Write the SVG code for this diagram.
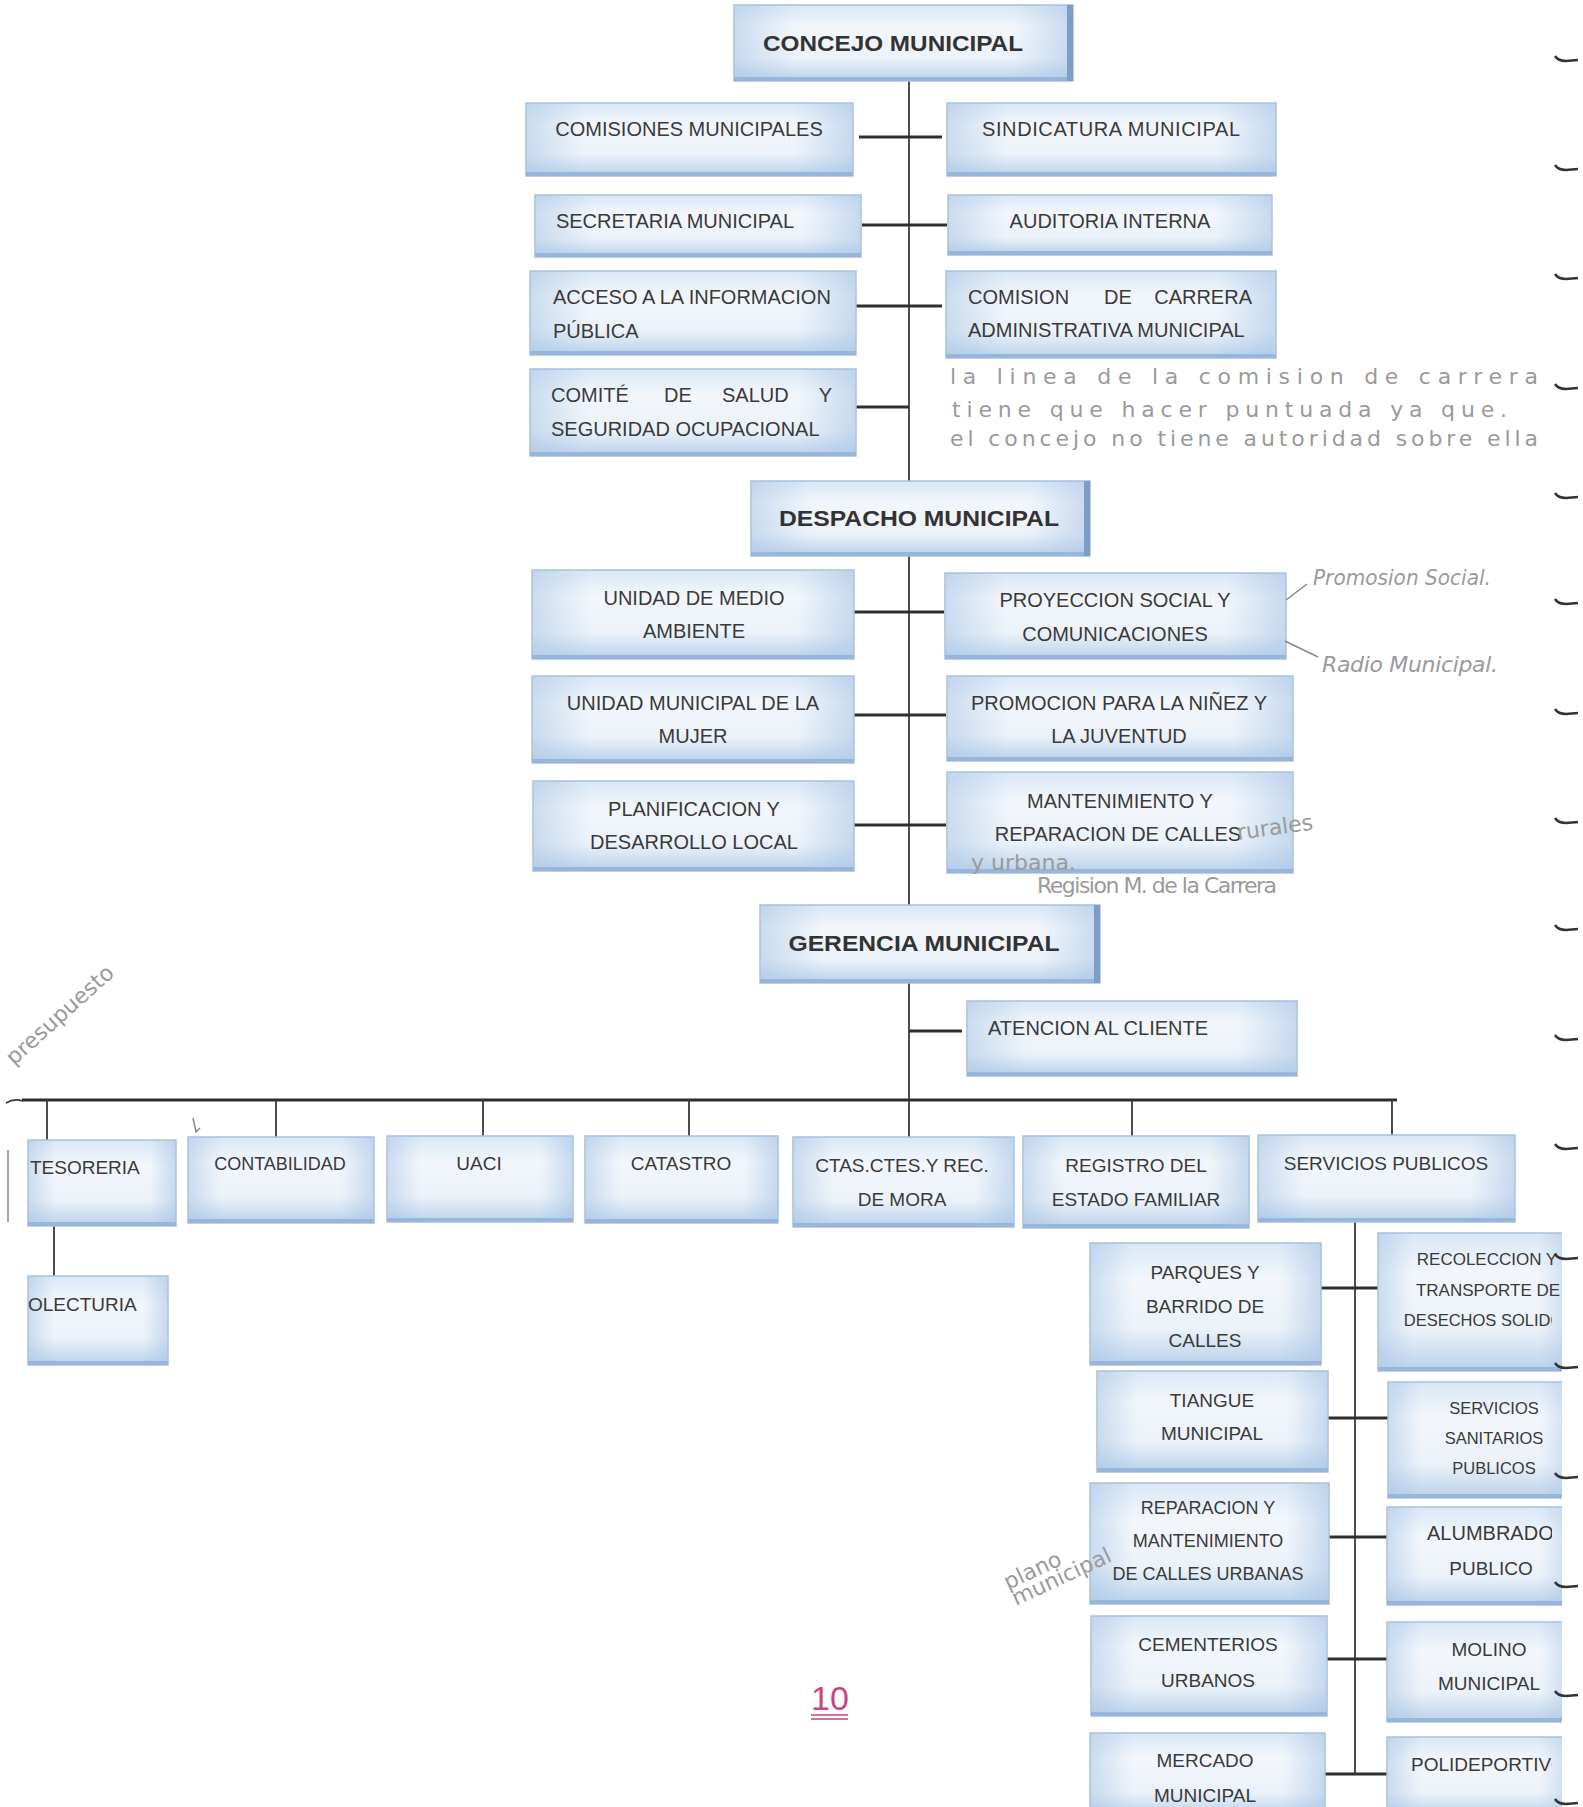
<svg xmlns="http://www.w3.org/2000/svg" width="1583" height="1807" viewBox="0 0 1583 1807">
<defs>
<linearGradient id="gv" x1="0" y1="0" x2="0" y2="1">
<stop offset="0" stop-color="#d9e7f5"/>
<stop offset="0.3" stop-color="#f3f7fc"/>
<stop offset="0.7" stop-color="#ecf2f9"/>
<stop offset="1" stop-color="#b9d1ea"/>
</linearGradient>
<linearGradient id="gh" x1="0" y1="0" x2="1" y2="0">
<stop offset="0" stop-color="#a9c6e6" stop-opacity="0.55"/>
<stop offset="0.18" stop-color="#a9c6e6" stop-opacity="0"/>
<stop offset="0.82" stop-color="#a9c6e6" stop-opacity="0"/>
<stop offset="1" stop-color="#a9c6e6" stop-opacity="0.6"/>
</linearGradient>
<clipPath id="pageR"><rect x="0" y="0" width="1562" height="1807"/></clipPath>
<clipPath id="cutT"><rect x="0" y="0" width="1552" height="1807"/></clipPath>
</defs>
<style>
.bx{fill:url(#gv);stroke:#a9c0da;stroke-width:1.5}
.bo{fill:url(#gh)}
.bs{fill:#97b6d9}
.sh{fill:#7d9dc5}
.t{font-family:"Liberation Sans",Arial,sans-serif;font-size:20px;fill:#3a3a3a}
.c{text-anchor:middle}
.h{font-weight:bold;font-size:22px;fill:#333}
.s19{font-size:19px}
.s18{font-size:18px}
.s17{font-size:17px}
.s165{font-size:16.5px}
.ln{stroke:#2e2e2e;stroke-width:3;fill:none}
.lv{stroke:#3a3a3a;stroke-width:1.8;fill:none}
.hw{font-family:"DejaVu Sans",sans-serif;fill:#9a9a9a;font-size:22px}
.it{font-style:italic}
.hwl{stroke:#888;stroke-width:1.5;fill:none}
.mk{stroke:#333;stroke-width:2.5;fill:none}
</style>
<rect width="1583" height="1807" fill="#ffffff"/>

<g id="connectors">
<path class="lv" d="M909 81V1100"/>
<path class="ln" d="M859 137H942M862 225H947M856 306H942M856 407H909M854 612H944M854 715H946M854 825H946M909 1031H962"/>
<path class="ln" d="M22 1100H1397"/>
<path class="lv" d="M6 1103Q14 1098 23 1101"/>
<path class="lv" d="M47 1100V1140M276 1100V1137M483 1100V1136M689 1100V1136M909 1100V1137M1132 1100V1136M1392 1100V1135M54 1226V1276"/>
<path class="lv" d="M1355 1222V1774"/>
<path class="ln" d="M1321 1288H1378M1328 1418H1388M1329 1537H1387M1327 1659H1387M1325 1774H1387"/>
</g>

<g id="concejo-municipal"><rect class="bx" x="734" y="5" width="339" height="76"/><rect class="bo" x="734" y="5" width="339" height="76"/><rect class="bs" x="734" y="77" width="339" height="4"/><rect class="sh" x="1067" y="5" width="6" height="76"/><text class="t h c" x="893" y="51" textLength="260" lengthAdjust="spacingAndGlyphs">CONCEJO MUNICIPAL</text></g>

<g id="comisiones-municipales"><rect class="bx" x="526" y="103" width="327" height="73"/><rect class="bo" x="526" y="103" width="327" height="73"/><rect class="bs" x="526" y="172" width="327" height="4"/><text class="t c" x="689" y="136">COMISIONES MUNICIPALES</text></g>
<g id="sindicatura-municipal"><rect class="bx" x="947" y="103" width="329" height="73"/><rect class="bo" x="947" y="103" width="329" height="73"/><rect class="bs" x="947" y="172" width="329" height="4"/><text class="t c" x="1111" y="136" textLength="258" lengthAdjust="spacing">SINDICATURA  MUNICIPAL</text></g>
<g id="secretaria-municipal"><rect class="bx" x="535" y="195" width="326" height="62"/><rect class="bo" x="535" y="195" width="326" height="62"/><rect class="bs" x="535" y="253" width="326" height="4"/><text class="t c" x="675" y="228">SECRETARIA MUNICIPAL</text></g>
<g id="auditoria-interna"><rect class="bx" x="948" y="195" width="324" height="60"/><rect class="bo" x="948" y="195" width="324" height="60"/><rect class="bs" x="948" y="251" width="324" height="4"/><text class="t c" x="1110" y="228">AUDITORIA INTERNA</text></g>
<g id="acceso-informacion"><rect class="bx" x="530" y="271" width="326" height="84"/><rect class="bo" x="530" y="271" width="326" height="84"/><rect class="bs" x="530" y="351" width="326" height="4"/><text class="t" x="553" y="304">ACCESO A LA INFORMACION</text><text class="t" x="553" y="338">PÚBLICA</text></g>
<g id="comision-carrera"><rect class="bx" x="946" y="271" width="330" height="87"/><rect class="bo" x="946" y="271" width="330" height="87"/><rect class="bs" x="946" y="354" width="330" height="4"/><text class="t" x="968" y="304">COMISION</text><text class="t" x="1104" y="304">DE</text><text class="t" x="1252" y="304" text-anchor="end">CARRERA</text><text class="t" x="968" y="337">ADMINISTRATIVA MUNICIPAL</text></g>
<g id="comite-salud"><rect class="bx" x="530" y="369" width="326" height="87"/><rect class="bo" x="530" y="369" width="326" height="87"/><rect class="bs" x="530" y="452" width="326" height="4"/><text class="t" x="551" y="402">COMITÉ</text><text class="t" x="664" y="402">DE</text><text class="t" x="722" y="402">SALUD</text><text class="t" x="832" y="402" text-anchor="end">Y</text><text class="t" x="551" y="436">SEGURIDAD OCUPACIONAL</text></g>

<g id="despacho-municipal"><rect class="bx" x="751" y="481" width="339" height="75"/><rect class="bo" x="751" y="481" width="339" height="75"/><rect class="bs" x="751" y="552" width="339" height="4"/><rect class="sh" x="1084" y="481" width="6" height="75"/><text class="t h c" x="919" y="526" textLength="280" lengthAdjust="spacingAndGlyphs">DESPACHO MUNICIPAL</text></g>

<g id="medio-ambiente"><rect class="bx" x="532" y="570" width="322" height="89"/><rect class="bo" x="532" y="570" width="322" height="89"/><rect class="bs" x="532" y="655" width="322" height="4"/><text class="t c" x="694" y="605">UNIDAD DE MEDIO</text><text class="t c" x="694" y="638">AMBIENTE</text></g>
<g id="proyeccion-social"><rect class="bx" x="945" y="573" width="341" height="86"/><rect class="bo" x="945" y="573" width="341" height="86"/><rect class="bs" x="945" y="655" width="341" height="4"/><text class="t c" x="1115" y="607">PROYECCION SOCIAL Y</text><text class="t c" x="1115" y="641">COMUNICACIONES</text></g>
<g id="unidad-mujer"><rect class="bx" x="532" y="676" width="322" height="87"/><rect class="bo" x="532" y="676" width="322" height="87"/><rect class="bs" x="532" y="759" width="322" height="4"/><text class="t c" x="693" y="710">UNIDAD MUNICIPAL DE LA</text><text class="t c" x="693" y="743">MUJER</text></g>
<g id="promocion-ninez"><rect class="bx" x="947" y="676" width="346" height="85"/><rect class="bo" x="947" y="676" width="346" height="85"/><rect class="bs" x="947" y="757" width="346" height="4"/><text class="t c" x="1119" y="710">PROMOCION PARA LA NIÑEZ Y</text><text class="t c" x="1119" y="743">LA JUVENTUD</text></g>
<g id="planificacion"><rect class="bx" x="533" y="781" width="321" height="90"/><rect class="bo" x="533" y="781" width="321" height="90"/><rect class="bs" x="533" y="867" width="321" height="4"/><text class="t c" x="694" y="816">PLANIFICACION Y</text><text class="t c" x="694" y="849">DESARROLLO LOCAL</text></g>
<g id="mantenimiento-calles"><rect class="bx" x="947" y="772" width="346" height="101"/><rect class="bo" x="947" y="772" width="346" height="101"/><rect class="bs" x="947" y="869" width="346" height="4"/><text class="t c" x="1120" y="808">MANTENIMIENTO Y</text><text class="t c" x="1118" y="841">REPARACION DE CALLES</text></g>

<g id="gerencia-municipal"><rect class="bx" x="760" y="905" width="340" height="78"/><rect class="bo" x="760" y="905" width="340" height="78"/><rect class="bs" x="760" y="979" width="340" height="4"/><rect class="sh" x="1094" y="905" width="6" height="78"/><text class="t h c" x="924" y="951" textLength="271" lengthAdjust="spacingAndGlyphs">GERENCIA MUNICIPAL</text></g>
<g id="atencion-cliente"><rect class="bx" x="967" y="1001" width="330" height="75"/><rect class="bo" x="967" y="1001" width="330" height="75"/><rect class="bs" x="967" y="1072" width="330" height="4"/><text class="t" x="988" y="1035">ATENCION AL CLIENTE</text></g>

<g id="tesoreria"><rect class="bx" x="28" y="1140" width="148" height="86"/><rect class="bo" x="28" y="1140" width="148" height="86"/><rect class="bs" x="28" y="1222" width="148" height="4"/><text class="t s19" x="30" y="1174">TESORERIA</text></g>
<g id="contabilidad"><rect class="bx" x="188" y="1137" width="186" height="86"/><rect class="bo" x="188" y="1137" width="186" height="86"/><rect class="bs" x="188" y="1219" width="186" height="4"/><text class="t s18 c" x="280" y="1170">CONTABILIDAD</text></g>
<g id="uaci"><rect class="bx" x="387" y="1136" width="186" height="86"/><rect class="bo" x="387" y="1136" width="186" height="86"/><rect class="bs" x="387" y="1218" width="186" height="4"/><text class="t s19 c" x="479" y="1170">UACI</text></g>
<g id="catastro"><rect class="bx" x="585" y="1136" width="193" height="87"/><rect class="bo" x="585" y="1136" width="193" height="87"/><rect class="bs" x="585" y="1219" width="193" height="4"/><text class="t s19 c" x="681" y="1170">CATASTRO</text></g>
<g id="ctas-ctes"><rect class="bx" x="793" y="1137" width="221" height="90"/><rect class="bo" x="793" y="1137" width="221" height="90"/><rect class="bs" x="793" y="1223" width="221" height="4"/><text class="t s19 c" x="902" y="1172">CTAS.CTES.Y REC.</text><text class="t s19 c" x="902" y="1206">DE MORA</text></g>
<g id="registro-familiar"><rect class="bx" x="1023" y="1136" width="226" height="92"/><rect class="bo" x="1023" y="1136" width="226" height="92"/><rect class="bs" x="1023" y="1224" width="226" height="4"/><text class="t s19 c" x="1136" y="1172">REGISTRO DEL</text><text class="t s19 c" x="1136" y="1206">ESTADO FAMILIAR</text></g>
<g id="servicios-publicos"><rect class="bx" x="1258" y="1135" width="257" height="87"/><rect class="bo" x="1258" y="1135" width="257" height="87"/><rect class="bs" x="1258" y="1218" width="257" height="4"/><text class="t s19 c" x="1386" y="1170">SERVICIOS PUBLICOS</text></g>
<g id="colecturia"><rect class="bx" x="28" y="1276" width="140" height="89"/><rect class="bo" x="28" y="1276" width="140" height="89"/><rect class="bs" x="28" y="1361" width="140" height="4"/><text class="t s19" x="28" y="1311">OLECTURIA</text></g>

<g id="parques-barrido"><rect class="bx" x="1090" y="1243" width="231" height="122"/><rect class="bo" x="1090" y="1243" width="231" height="122"/><rect class="bs" x="1090" y="1361" width="231" height="4"/><text class="t s19 c" x="1205" y="1279">PARQUES Y</text><text class="t s19 c" x="1205" y="1313">BARRIDO DE</text><text class="t s19 c" x="1205" y="1347">CALLES</text></g>
<g id="tiangue-municipal"><rect class="bx" x="1097" y="1371" width="231" height="101"/><rect class="bo" x="1097" y="1371" width="231" height="101"/><rect class="bs" x="1097" y="1468" width="231" height="4"/><text class="t s19 c" x="1212" y="1407">TIANGUE</text><text class="t s19 c" x="1212" y="1440">MUNICIPAL</text></g>
<g id="reparacion-calles-urbanas"><rect class="bx" x="1090" y="1483" width="239" height="121"/><rect class="bo" x="1090" y="1483" width="239" height="121"/><rect class="bs" x="1090" y="1600" width="239" height="4"/><text class="t s18 c" x="1208" y="1514">REPARACION Y</text><text class="t s18 c" x="1208" y="1547">MANTENIMIENTO</text><text class="t s18 c" x="1208" y="1580">DE CALLES URBANAS</text></g>
<g id="cementerios-urbanos"><rect class="bx" x="1091" y="1616" width="236" height="100"/><rect class="bo" x="1091" y="1616" width="236" height="100"/><rect class="bs" x="1091" y="1712" width="236" height="4"/><text class="t s19 c" x="1208" y="1651">CEMENTERIOS</text><text class="t s19 c" x="1208" y="1687">URBANOS</text></g>
<g id="mercado-municipal"><rect class="bx" x="1090" y="1733" width="235" height="84"/><rect class="bo" x="1090" y="1733" width="235" height="84"/><text class="t s19 c" x="1205" y="1767">MERCADO</text><text class="t s19 c" x="1205" y="1802">MUNICIPAL</text></g>

<g clip-path="url(#pageR)">
<g id="recoleccion-desechos"><rect class="bx" x="1378" y="1233" width="195" height="138"/><rect class="bo" x="1378" y="1233" width="195" height="138"/><rect class="bs" x="1378" y="1367" width="195" height="4"/><text class="t s17 c" x="1487" y="1265">RECOLECCION Y</text><text class="t s17 c" x="1488" y="1296">TRANSPORTE DE</text><text class="t s165 c" x="1489" y="1326" clip-path="url(#cutT)">DESECHOS SOLIDOS</text></g>
<g id="servicios-sanitarios"><rect class="bx" x="1388" y="1382" width="185" height="116"/><rect class="bo" x="1388" y="1382" width="185" height="116"/><rect class="bs" x="1388" y="1494" width="185" height="4"/><text class="t s165 c" x="1494" y="1414">SERVICIOS</text><text class="t s165 c" x="1494" y="1444">SANITARIOS</text><text class="t s165 c" x="1494" y="1474">PUBLICOS</text></g>
<g id="alumbrado-publico"><rect class="bx" x="1387" y="1507" width="186" height="98"/><rect class="bo" x="1387" y="1507" width="186" height="98"/><rect class="bs" x="1387" y="1601" width="186" height="4"/><text class="t" x="1427" y="1540" clip-path="url(#cutT)">ALUMBRADO</text><text class="t s19 c" x="1491" y="1575">PUBLICO</text></g>
<g id="molino-municipal"><rect class="bx" x="1387" y="1622" width="186" height="100"/><rect class="bo" x="1387" y="1622" width="186" height="100"/><rect class="bs" x="1387" y="1718" width="186" height="4"/><text class="t s19 c" x="1489" y="1656">MOLINO</text><text class="t s19 c" x="1489" y="1690">MUNICIPAL</text></g>
<g id="polideportivo"><rect class="bx" x="1387" y="1737" width="186" height="80"/><rect class="bo" x="1387" y="1737" width="186" height="80"/><text class="t s19" x="1411" y="1771" clip-path="url(#cutT)">POLIDEPORTIVO</text></g>
</g>

<g id="annotations">
<text class="hw" x="950" y="384" font-size="25" textLength="588" lengthAdjust="spacing">la linea de la comision de carrera</text>
<text class="hw" x="952" y="417" font-size="25" textLength="555" lengthAdjust="spacing">tiene que hacer puntuada ya que.</text>
<text class="hw" x="950" y="446" font-size="25" textLength="588" lengthAdjust="spacing">el concejo no tiene autoridad sobre ella</text>
<path class="hwl" d="M1286 600L1307 584M1285 641L1318 657"/>
<text class="hw it" x="1313" y="585" font-size="21" textLength="178" lengthAdjust="spacingAndGlyphs">Promosion Social.</text>
<text class="hw it" x="1322" y="672" font-size="24" textLength="176" lengthAdjust="spacing">Radio Municipal.</text>
<text class="hw" x="1238" y="840" font-size="22" transform="rotate(-8 1238 840)">rurales</text>
<text class="hw" x="971" y="870" font-size="27" fill="#6f6f6f">y urbana.</text>
<text class="hw" x="1037" y="893" font-size="12" fill="#b0b0b0" textLength="240" lengthAdjust="spacing">Regision M. de la Carrera</text>
<text class="hw" x="14" y="1066" font-size="24" fill="#b0b0b0" transform="rotate(-42 14 1066)">presupuesto</text>
<text class="hw" x="1008" y="1590" font-size="20" fill="#b0b0b0" transform="rotate(-25 1008 1590)">plano</text>
<text class="hw" x="1016" y="1606" font-size="15" fill="#b0b0b0" transform="rotate(-25 1016 1606)">municipal</text>
<path class="hwl" d="M193 1118L196 1132L200 1128"/>
<path class="hwl" stroke="#aaa" d="M8 1150V1222"/>
<text x="811" y="1710" font-family="Liberation Sans, Arial, sans-serif" font-size="34" fill="#c8457f">10</text>
<path d="M811 1715H848M811 1719H848" stroke="#c8457f" stroke-width="1.5"/>
</g>

<g id="scan-marks">
<path class="mk" d="M1555 56Q1558 61 1566 61L1578 60M1555 165Q1558 170 1566 170L1578 169M1555 274Q1558 279 1566 279L1578 278M1555 384Q1558 389 1566 389L1578 388M1555 493Q1558 498 1566 498L1578 497M1555 599Q1558 604 1566 604L1578 603M1555 709Q1558 714 1566 714L1578 713M1555 818Q1558 823 1566 823L1578 822M1555 925Q1558 930 1566 930L1578 929M1555 1035Q1558 1040 1566 1040L1578 1039M1555 1144Q1558 1149 1566 1149L1578 1148M1555 1254Q1558 1259 1566 1259L1578 1258M1555 1363Q1558 1368 1566 1368L1578 1367M1555 1473Q1558 1478 1566 1478L1578 1477M1555 1582Q1558 1587 1566 1587L1578 1586M1555 1691Q1558 1696 1566 1696L1578 1695M1555 1799Q1558 1804 1566 1804L1578 1803"/>
</g>
</svg>
